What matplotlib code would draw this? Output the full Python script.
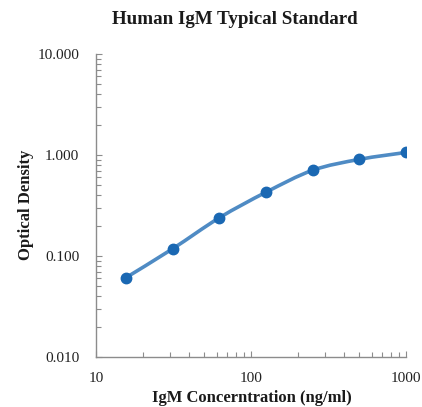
import numpy as np
import matplotlib
matplotlib.use("Agg")
import matplotlib.pyplot as plt
from matplotlib.path import Path
from matplotlib.patches import PathPatch
from matplotlib.ticker import FixedLocator, LogLocator, FormatStrFormatter, NullFormatter

conc = [15.6, 31.25, 62.5, 125, 250, 500, 1000]
od = [0.061, 0.118, 0.239, 0.428, 0.706, 0.905, 1.06]

title = "Human IgM Typical Standard"
xlabel = "IgM Concerntration (ng/ml)"
ylabel = "Optical Density"
xticks = [10, 100, 1000]
yticks = [0.01, 0.1, 1, 10]

plt.rcParams['font.family'] = ['Liberation Serif', 'DejaVu Serif']

line_col = '#4f8bc4'
dot_col = '#1a68b3'
axis_col = '#8c8c8c'


def smooth_path(xs, ys):
    # catmull-rom -> bezier in log space, like excel's smoothed line
    lx = np.log10(xs)
    ly = np.log10(ys)
    pts = np.column_stack([lx, ly])
    verts = [pts[0]]
    codes = [Path.MOVETO]
    n = len(pts)
    for i in range(n - 1):
        p0 = pts[max(i - 1, 0)]
        p1 = pts[i]
        p2 = pts[i + 1]
        p3 = pts[min(i + 2, n - 1)]
        c1 = p1 + (p2 - p0) / 6.0
        c2 = p2 - (p3 - p1) / 6.0
        verts += [c1, c2, p2]
        codes += [Path.CURVE4] * 3
    verts = 10 ** np.array(verts)
    return Path(verts, codes)


fig = plt.figure(figsize=(4.22, 4.07), dpi=100)
ax = fig.add_axes([0.2275, 0.1229, 0.7345, 0.7444])
ax.set_xscale('log')
ax.set_yscale('log')
ax.set_xlim(10, 1000)
ax.set_ylim(0.01, 10)

ax.add_patch(PathPatch(smooth_path(conc, od), fill=False, ec=line_col, lw=2.6,
                       capstyle='round', zorder=2))
ax.plot(conc, od, 'o', ms=7.5, color=dot_col, zorder=3)

ax.xaxis.set_major_locator(FixedLocator(xticks))
ax.yaxis.set_major_locator(FixedLocator(yticks))
ax.xaxis.set_minor_locator(LogLocator(base=10, subs=np.arange(2, 10)))
ax.yaxis.set_minor_locator(LogLocator(base=10, subs=np.arange(2, 10)))
ax.xaxis.set_minor_formatter(NullFormatter())
ax.yaxis.set_minor_formatter(NullFormatter())
ax.xaxis.set_major_formatter(FormatStrFormatter('%d'))
ax.yaxis.set_major_formatter(FormatStrFormatter('%.3f'))

for s in ['top', 'right']:
    ax.spines[s].set_visible(False)
for s in ['left', 'bottom']:
    ax.spines[s].set_color(axis_col)
    ax.spines[s].set_linewidth(1.0)

ax.tick_params(which='both', direction='in', color=axis_col, width=0.8)
ax.tick_params(which='major', length=4, labelsize=11, labelcolor='#222222', pad=12)
ax.tick_params(which='minor', length=3.5)
ax.tick_params(axis='x', which='major', pad=11)

fig.text(235 / 422, 1 - 20 / 407, title, ha='center', va='center',
         fontsize=13.7, fontweight='bold', color='#1a1a1a')
fig.text(252 / 422, 1 - 398 / 407, xlabel, ha='center', va='center',
         fontsize=12, fontweight='bold', color='#1a1a1a')
fig.text(26 / 422, 1 - 205 / 407, ylabel, ha='center', va='center', rotation=90,
         fontsize=12, fontweight='bold', color='#1a1a1a')

fig.savefig('out.png', dpi=100)
